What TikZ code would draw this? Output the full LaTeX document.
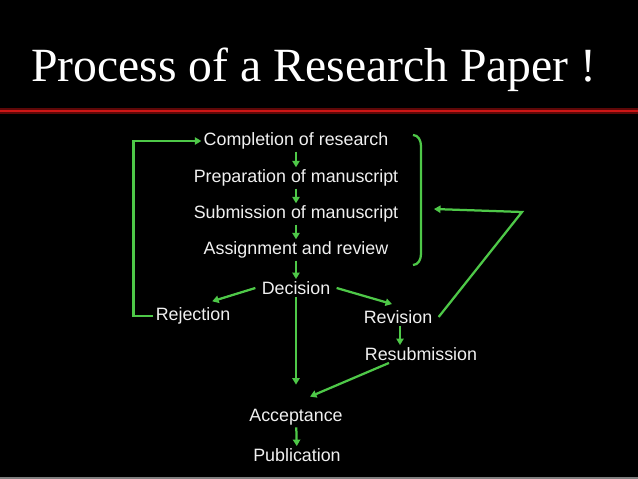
\documentclass[tikz,border=0pt]{standalone}
\usepackage{fontspec}
\setmainfont{Liberation Sans}
\newfontfamily\titlefont{Liberation Serif}
\usepackage{tikz}
\usetikzlibrary{arrows.meta,positioning}
\definecolor{flowgreen}{RGB}{78,200,72}
\definecolor{barred}{RGB}{205,22,22}
\definecolor{bardark}{RGB}{95,8,8}

\begin{document}
\begin{tikzpicture}[x=0.025cm, y=-0.025cm,
  txt/.style={text=white!94!black, inner sep=1.5pt, font=\fontsize{12.7}{15}\selectfont},
  arr/.style={-{Triangle[length=4.6pt, width=5.2pt]}, flowgreen, line width=1.6pt},
  brk/.style={flowgreen, line width=1.6pt}]
\fill[black] (0,0) rectangle (638,479);
\useasboundingbox (0,0) rectangle (638,479);
% title and bar
\node[anchor=base, text=white, inner sep=0pt, font=\titlefont\fontsize{33.9}{40}\selectfont] (title) at (314,81) {Process of a Research Paper !};
\draw[bardark, line width=4.2pt] (0,111) -- (638,111);
\draw[barred, line width=2pt] (0,111) -- (638,111);
\draw[gray, line width=1.2pt] (0,478.3) -- (638,478.3);
% stages
\node[txt] (ctdone) at (296,141) {Completion of research};
\node[txt] (prep) at (296,178) {Preparation of manuscript};
\node[txt] (subm) at (296,214) {Submission of manuscript};
\node[txt] (asgn) at (296,250) {Assignment and review};
\node[txt] (deci) at (296,288) {Decision};
\node[txt] (rej) at (193,316) {Rejection};
\node[txt] (revi) at (398,317) {Revision};
\node[txt] (resub) at (421,354) {Resubmission};
\node[txt] (acc) at (296,417) {Acceptance};
\node[txt] (pub) at (297,455) {Publication};
\coordinate (turn) at (522,212);
\coordinate (brin) at (434,209);
% main chain
\draw[arr] (ctdone) -- (prep);
\draw[arr] (prep) -- (subm);
\draw[arr] (subm) -- (asgn);
\draw[arr] (asgn) -- (deci);
\draw[arr] ([xshift=-0.1cm]deci.west) -- ([xshift=0.48cm, yshift=0.1cm]rej.north);
\draw[arr] ([xshift=0.1cm]deci.east) -- ([xshift=-0.15cm, yshift=0.1cm]revi.north);
\draw[arr] (deci.south) -- ([yshift=0.55cm]acc.north);
\draw[arr] ([xshift=0.05cm]revi.south) -- ([xshift=0.05cm]revi.south |- resub.north);
\draw[arr] ([xshift=-0.8cm]resub.south) -- ([xshift=0.35cm, yshift=0.25cm]acc.north);
\draw[arr] (acc) -- (pub);
% loops
\draw[arr] (rej.west) -- ++(-20,0) |- (ctdone.west);
\draw[brk] (413,135) to[out=0, in=90] (421,146) -- (421,254) to[out=-90, in=0] (413,265);
\draw[arr] ([xshift=0.1cm]revi.east) -- (turn) -- (brin);
\end{tikzpicture}
\end{document}
